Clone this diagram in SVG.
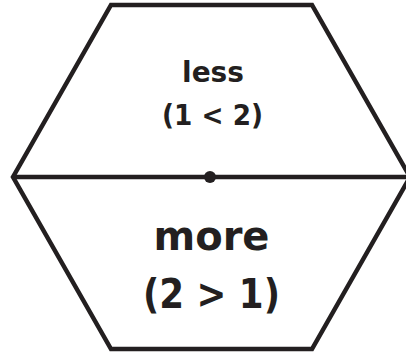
<svg xmlns="http://www.w3.org/2000/svg" width="406" height="353" viewBox="0 0 406 353">
<style>
.shape{fill:#fff;stroke:#231f20;stroke-width:4.5;stroke-linejoin:miter}
.line{stroke:#231f20;stroke-width:4.5;fill:none}
.t{font-family:"DejaVu Sans",sans-serif;font-weight:700;fill:#231f20;text-anchor:middle}
.s{font-size:28px}
.l{font-size:40px}
</style>
<rect width="406" height="353" fill="#fff"/>
<g id="hexagon">
<polygon class="shape" points="111,5 312,5 410,177 312,349 111,349 13,177"/>
</g>
<g id="connectors">
<line class="line" x1="13" y1="177" x2="410" y2="177"/>
<circle cx="210" cy="177" r="6" fill="#231f20"/>
</g>
<g id="less">
<text class="t s" x="213" y="82">less</text>
<text class="t s" x="212.5" y="125" textLength="101" lengthAdjust="spacingAndGlyphs">(1 &lt; 2)</text>
</g>
<g id="more">
<text class="t l" x="211.5" y="250">more</text>
<text class="t l" x="211.5" y="308" textLength="137" lengthAdjust="spacingAndGlyphs">(2 &gt; 1)</text>
</g>
</svg>
